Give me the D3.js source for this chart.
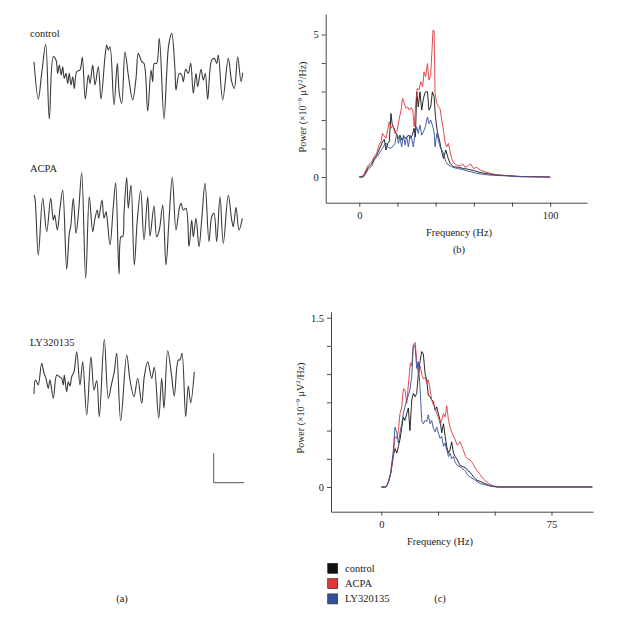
<!DOCTYPE html>
<html><head><meta charset="utf-8">
<script src="https://cdn.jsdelivr.net/npm/d3@7"></script>
<style>body{margin:0;background:#fff}svg{display:block}text{font-family:"Liberation Serif","DejaVu Serif",serif;fill:#222}</style>
</head><body><svg id="c" width="624" height="633"></svg>
<script>
// ---------- DATA ----------
// Panel (a): EEG traces, [time (a.u.), amplitude (a.u.)]
const traceControl = [[0,15],[4.3,-22.3],[7.7,3.3],[11.7,32.3],[15.3,-42.3],[19.3,20],[22,16.7],[23.7,3.3],[25.3,11.7],[27.3,1.7],[28.7,10],[30.3,-1.7],[32,3.3],[33.7,-6.7],[35.3,3.3],[37,-8.3],[38.7,0],[40.3,-11.7],[42.7,5],[46,6.7],[48.3,19.3],[51.3,-22.3],[54.3,1.7],[56,-6.7],[58.7,11.7],[61,-8.3],[64.3,10],[67,-22.3],[71,20],[72.7,31.7],[74.3,26.7],[76,30],[80,-28.3],[83.3,13.3],[85.3,-16.7],[87.7,-26.7],[91,25],[94.3,1.7],[98.7,-23.3],[102,-1.7],[104.3,23.3],[107.7,15],[110,13.3],[113.7,-34.3],[117,6.7],[118.7,-5],[120.3,13.3],[122.7,13.3],[125.3,38.3],[130,-42.3],[132.7,3.3],[134.7,31.7],[137.7,43.3],[141,6.7],[142,-13.3],[145.3,3.3],[147.7,1.7],[149.3,-5],[151.7,7.3],[154.3,3.3],[156.7,13.3],[159.3,-16.7],[162,3.3],[163.7,-10],[167,7.3],[169.3,-3.3],[171.3,3.3],[173.7,-22.7],[177.7,16.7],[180.3,18.3],[182.7,13.3],[184.3,21.7],[188.7,-23.3],[194.3,18.3],[197.7,-5],[200.3,-11.7],[203.7,20],[207,-5],[208.7,4]];
const traceACPA = [[0,25],[1,21.7],[4.3,-35],[8.7,21.7],[12.7,-11.7],[16.7,21.7],[19.3,0],[20.7,5],[23.3,-10],[26,11.7],[28.7,30],[32.7,-49.3],[35.3,-13.3],[36.7,-6.7],[39.3,21.7],[42,-13.3],[44.7,10],[47.7,47.3],[51.7,-58.3],[55.3,23.3],[58.7,-11.7],[60.7,0],[63.3,10],[64.7,1.7],[68,20],[70,1.7],[72,8.3],[73.3,0],[76,-25],[79.3,13.3],[81.7,37.3],[85,-54],[87,-16.7],[88.7,-16.7],[90,6.7],[92.7,42.7],[94.3,11.7],[97,35],[100.3,-45],[103.3,0],[106.7,29.3],[110,-20],[113.7,23.3],[116,-16],[120,14],[122.7,-16.7],[125.3,-10],[128.7,15],[132,-45],[135,0],[138.3,42.7],[142,-10],[145.3,11.7],[147,16.7],[149.3,10],[152,11.7],[155,-26.7],[157.7,0],[159.3,-16.7],[162,1.7],[165,-26.7],[167.7,0],[171,36.7],[175,-21.7],[177.7,3.3],[180,6.7],[182.7,-21.7],[186,23.3],[189.3,-23.3],[194.3,25],[197.7,0],[199.3,-6.7],[202,12.7],[205,-10],[208.3,1.7]];
const traceLY = [[0,-14],[1.3,0],[2.7,-1.7],[4.3,-5],[7.7,16.7],[10,6.7],[12,1.7],[14.3,-8.3],[16,0],[19.3,-18.3],[22.7,5],[25.3,3.3],[27.7,1.7],[29.3,-5],[30.3,5],[32.7,-11.7],[34.3,-1.7],[36,-6],[37.7,3.3],[40,8.3],[42.7,28.3],[46,-5],[48.7,18.3],[52.7,-35],[57,23.3],[60,-10],[62.7,-0.7],[65.3,-36.7],[70.3,40.7],[74.3,-18.3],[77.7,-3.3],[80.3,8.3],[82.7,26.7],[86.7,-40.7],[92.7,25],[96,0],[100,-16.7],[103.7,1.7],[107.7,-23.3],[110.3,3.3],[113.7,18.3],[117.7,1.7],[120.3,12.7],[124.7,-38.3],[127.7,1.7],[130,-28.3],[133.7,29.3],[137.7,3.3],[140.3,-16],[144.3,20],[146,20],[148,26.7],[151.7,-36.7],[154.3,-6],[156.7,-22.7],[160.3,8.3]];
const traceNames = ["control","ACPA","LY320135"];

// Panel (b): power spectra [frequency Hz, power ×10^-9 µV²/Hz]
const bControl = [[0,0],[2.1,0.01],[3.5,0.19],[4.7,0.34],[6.5,0.46],[7.9,0.65],[9.1,0.77],[10.3,0.95],[11.4,1.12],[12.2,1.24],[13.1,1.32],[14,0.95],[14.9,1.18],[15.7,1.24],[16.6,2.23],[17.3,1.82],[18.2,1.71],[19.2,1.53],[20.5,1.36],[21.3,1.47],[22.2,1.3],[23.4,1.41],[24.5,1.36],[25.7,1.47],[26.9,1.36],[27.8,1.47],[28.7,1.71],[29.4,1.41],[30.1,2.99],[30.9,2.46],[31.8,2.99],[32.7,2.35],[33.6,2.76],[34.6,2.99],[35.7,2.99],[36.5,2.35],[37.4,2.46],[38.3,2.99],[39.2,2.82],[39.9,2.11],[40.9,1.59],[42,1.3],[43,0.95],[44.1,0.65],[45.3,0.95],[46.3,0.71],[47.6,0.48],[49.3,0.36],[51.9,0.34],[54.5,0.3],[57.2,0.27],[59.8,0.23],[63.3,0.16],[66.8,0.12],[71.2,0.08],[77.3,0.05],[84.3,0.02],[91.3,0.01],[100,0]];
const bACPA = [[0,0],[2.1,0.05],[3.5,0.25],[4.7,0.42],[6.5,0.54],[7.9,0.74],[9.1,0.83],[10.3,1.12],[11.4,1.24],[12.2,1.53],[13.1,1.44],[14,1.36],[14.9,1.65],[15.7,1.94],[16.6,1.71],[17.5,1.82],[18.7,1.53],[19.9,1.65],[20.8,2.0],[21.9,2.35],[22.7,2.76],[23.6,2.58],[24.5,2.41],[25.3,2.46],[26.2,2.35],[27.1,2.44],[28,2.35],[28.8,1.76],[29.7,2.7],[30.4,3.11],[31.3,3.05],[32.2,3.34],[33.2,3.17],[33.9,3.69],[34.8,3.52],[35.7,3.98],[36.5,3.4],[37.4,3.57],[38.1,4.45],[38.6,5.15],[39.2,5.13],[39.7,2.93],[40.6,2.58],[41.4,2.46],[42.3,2.41],[43.2,2.0],[44.1,1.65],[44.9,1.24],[45.8,1.06],[46.7,1.18],[47.6,0.89],[48.4,0.65],[49.7,0.48],[51,0.42],[52.8,0.39],[54.2,0.46],[55.4,0.34],[57.2,0.41],[58.4,0.46],[59.8,0.3],[61.5,0.34],[63.3,0.25],[65.9,0.18],[68.5,0.13],[72,0.08],[77.3,0.05],[84.3,0.02],[91.3,0.01],[100,0]];
const bLY = [[0,0],[2.1,0],[3.5,0.13],[4.7,0.27],[6.5,0.39],[7.9,0.6],[9.1,0.71],[10.3,0.81],[11.7,0.97],[12.9,1.09],[14,1.2],[14.9,1.06],[16.1,1.0],[17.5,1.06],[18.7,1.18],[19.6,1.53],[20.5,1.18],[21.3,1.41],[22.2,1.06],[23.1,1.47],[24,1.12],[24.8,1.41],[25.7,1.06],[26.6,1.47],[27.4,1.36],[28.3,1.06],[29.2,1.53],[30.1,1.76],[30.9,1.53],[31.8,1.82],[32.7,1.47],[33.6,1.59],[34.6,1.76],[35.7,2.11],[36.5,1.88],[37.4,2.0],[38.3,1.82],[39.2,1.59],[39.7,1.06],[40.6,1.53],[41.4,1.3],[42.3,1.06],[43.2,0.95],[44.1,0.83],[45.3,0.54],[46.7,0.42],[48.4,0.36],[51,0.3],[53.7,0.27],[56.3,0.22],[58.9,0.18],[61.5,0.13],[65,0.09],[70.3,0.06],[77.3,0.04],[84.3,0.01],[91.3,0.01],[100,0]];

// Panel (c): power spectra
const cControl = [[0,0],[2.1,0],[3.1,0.04],[4.1,0.12],[5.3,0.28],[6,0.34],[6.8,0.3],[7.5,0.36],[8.2,0.42],[9,0.53],[9.7,0.62],[10.4,0.59],[11.2,0.65],[11.9,0.7],[12.6,0.5],[13.4,0.77],[14.1,0.83],[14.9,0.8],[15.6,0.83],[16.3,1.0],[17.1,1.12],[17.8,1.2],[18.5,1.18],[19.3,1.0],[20,0.95],[20.7,0.81],[21.5,0.8],[22.2,0.77],[22.9,0.76],[23.7,0.68],[24.4,0.71],[25.1,0.65],[25.9,0.59],[26.6,0.48],[27.4,0.56],[28.1,0.45],[28.8,0.36],[29.6,0.3],[30.3,0.33],[31,0.4],[31.8,0.3],[32.5,0.27],[33.5,0.24],[34.7,0.19],[35.9,0.18],[37.1,0.17],[37.9,0.15],[39.1,0.13],[40.6,0.09],[42.1,0.06],[43.5,0.05],[45.7,0.03],[47.9,0.01],[50.9,0],[93,0]];
const cACPA = [[0,0],[2.1,0],[3.1,0.05],[4.1,0.12],[5.3,0.27],[6,0.45],[6.8,0.43],[7.5,0.5],[8.2,0.65],[9,0.71],[9.7,0.87],[10.4,0.86],[11.2,0.74],[12.1,0.95],[12.8,1.1],[13.4,1.07],[14,1.24],[14.9,1.28],[15.6,1.12],[16.3,1.0],[17.1,1.07],[17.8,1.0],[18.5,0.96],[19.3,0.97],[20,0.92],[20.7,0.95],[21.5,0.86],[22.2,0.77],[22.9,0.73],[23.7,0.7],[24.4,0.65],[25.1,0.62],[25.9,0.56],[26.6,0.59],[27.4,0.65],[28.1,0.62],[28.8,0.72],[29.6,0.59],[30.3,0.53],[31,0.49],[31.8,0.45],[32.5,0.42],[33.5,0.37],[34.7,0.4],[35.9,0.34],[37.1,0.27],[37.9,0.25],[39.1,0.24],[40.3,0.21],[41.3,0.17],[42.4,0.14],[43.5,0.11],[45,0.07],[47.2,0.03],[49.4,0.01],[52.4,0],[93,0]];
const cLY = [[0,0],[2.1,0],[3.1,0.04],[4.1,0.12],[5.3,0.33],[6,0.53],[6.8,0.48],[7.5,0.39],[8.2,0.48],[9,0.56],[9.7,0.65],[10.4,0.71],[11.2,0.77],[11.9,0.81],[12.6,0.86],[13.4,0.98],[14.1,1.26],[14.9,1.24],[15.6,1.05],[16.3,1.11],[17.1,0.86],[17.8,0.59],[18.5,0.56],[19.3,0.59],[20,0.58],[20.7,0.64],[21.5,0.56],[22.2,0.59],[22.9,0.52],[23.7,0.49],[24.4,0.53],[25.1,0.48],[25.9,0.43],[26.6,0.45],[27.4,0.36],[28.1,0.39],[28.8,0.33],[29.6,0.27],[30.3,0.3],[31,0.25],[31.8,0.27],[32.5,0.22],[33.5,0.19],[34.7,0.18],[35.9,0.16],[37.1,0.14],[37.9,0.11],[39.1,0.09],[40.6,0.07],[42.1,0.05],[43.5,0.03],[45.7,0.02],[47.9,0.01],[50.9,0],[93,0]];

const seriesNames = ["control","ACPA","LY320135"];
const seriesColors = ["#111111","#e0363a","#33509a"];
const bTicksX = [0,20,40,60,80,100], bLabelsX = [0,100];
const bTicksY = [0,1,2,3,4,5], bLabelsY = [0,5];
const cTicksX = [0,25,50,75], cLabelsX = [0,75];
const cTicksY = [0,0.25,0.5,0.75,1,1.25,1.5], cLabelsY = [0,1.5];

// ---------- DRAW ----------
const svg = d3.select("#c");
svg.append("rect").attr("width",624).attr("height",633).attr("fill","#fff");

// Panel (a)
const tx = d3.scaleLinear().domain([0,208.7]).range([34,242.7]);
const traceLine = (base) => d3.line().x(d=>tx(d[0])).y(d=>base(d[1])).curve(d3.curveCatmullRom.alpha(0.5));
const traces = [[traceControl,76.7,37],[traceACPA,220,172],[traceLY,380,346]];
traces.forEach(([data,b0,ly],i)=>{
  const ys = d3.scaleLinear().domain([0,1]).range([b0,b0-1]);
  svg.append("path").datum(data).attr("d",traceLine(ys)).attr("fill","none")
    .attr("stroke","#3a3a3a").attr("stroke-width",1.1).attr("stroke-linejoin","round");
  svg.append("text").attr("x",30).attr("y",ly).attr("font-size",10.5).text(traceNames[i]);
});
// scale bar
svg.append("path").attr("d","M213.7,453.3V482.7H244").attr("fill","none").attr("stroke","#555").attr("stroke-width",1);
svg.append("text").attr("x",122).attr("y",602).attr("text-anchor","middle").attr("font-size",10.5).text("(a)");

function panel(opts){
  const x = d3.scaleLinear().domain(opts.xd).range(opts.xr);
  const y = d3.scaleLinear().domain(opts.yd).range(opts.yr);
  const gx = svg.append("g").attr("transform",`translate(0,${opts.yr[0]})`)
    .call(d3.axisBottom(x).tickValues(opts.tx).tickSize(4).tickSizeOuter(0)
      .tickFormat(d=>opts.lx.includes(d)?d:""));
  const gy = svg.append("g").attr("transform",`translate(${opts.xr[0]},0)`)
    .call(d3.axisLeft(y).tickValues(opts.ty).tickSize(4).tickSizeOuter(0)
      .tickFormat(d=>opts.ly.includes(d)?d:""));
  [gx,gy].forEach(g=>{
    g.selectAll("path,line").attr("stroke","#333").attr("stroke-width",0.9);
    g.selectAll("text").attr("font-family","Liberation Serif").attr("font-size",10.5).attr("fill","#333");
  });
  gx.selectAll("text").attr("dy","0.9em");
  const line = d3.line().x(d=>x(d[0])).y(d=>y(d[1]));
  opts.series.forEach((s,i)=>{
    svg.append("path").datum(s).attr("d",line).attr("fill","none")
      .attr("stroke",seriesColors[i]).attr("stroke-width",0.9).attr("stroke-linejoin","round");
  });
  // y label
  const yl = svg.append("text").attr("transform",`translate(${opts.ylab[0]},${opts.ylab[1]}) rotate(-90)`)
    .attr("text-anchor","middle").attr("font-size",10).attr("fill","#333");
  yl.append("tspan").text("Power (×10");
  yl.append("tspan").attr("dy",-4).attr("font-size",7).text("−9");
  yl.append("tspan").attr("dy",4).text(" μV");
  yl.append("tspan").attr("dy",-4).attr("font-size",7).text("2");
  yl.append("tspan").attr("dy",4).text("/Hz)");
  svg.append("text").attr("x",opts.xlab[0]).attr("y",opts.xlab[1]).attr("text-anchor","middle")
    .attr("font-size",10.5).attr("fill","#333").text("Frequency (Hz)");
  svg.append("text").attr("x",opts.tag[0]).attr("y",opts.tag[1]).attr("text-anchor","middle")
    .attr("font-size",10.5).attr("fill","#333").text(opts.tagText);
}

panel({xd:[-17.6,119.3], xr:[325.7,587], yd:[-0.9,5.72], yr:[202.7,14],
  tx:bTicksX, lx:bLabelsX, ty:bTicksY, ly:bLabelsY,
  series:[bControl,bACPA,bLY], ylab:[306,107], xlab:[459,236], tag:[459,253], tagText:"(b)"});
panel({xd:[-22.2,93.3], xr:[331,593], yd:[-0.219,1.553], yr:[511.7,311.7],
  tx:cTicksX, lx:cLabelsX, ty:cTicksY, ly:cLabelsY,
  series:[cControl,cACPA,cLY], ylab:[304,408], xlab:[440,545], tag:[440,602], tagText:"(c)"});

// legend
const lg = svg.append("g");
seriesNames.forEach((n,i)=>{
  lg.append("rect").attr("x",327.7).attr("y",563.3+i*15.3).attr("width",10).attr("height",10)
    .attr("fill",seriesColors[i]).attr("stroke","#222").attr("stroke-width",0.6);
  lg.append("text").attr("x",345).attr("y",571.5+i*15.3).attr("font-size",10.5).attr("fill","#333").text(n);
});
</script></body></html>
